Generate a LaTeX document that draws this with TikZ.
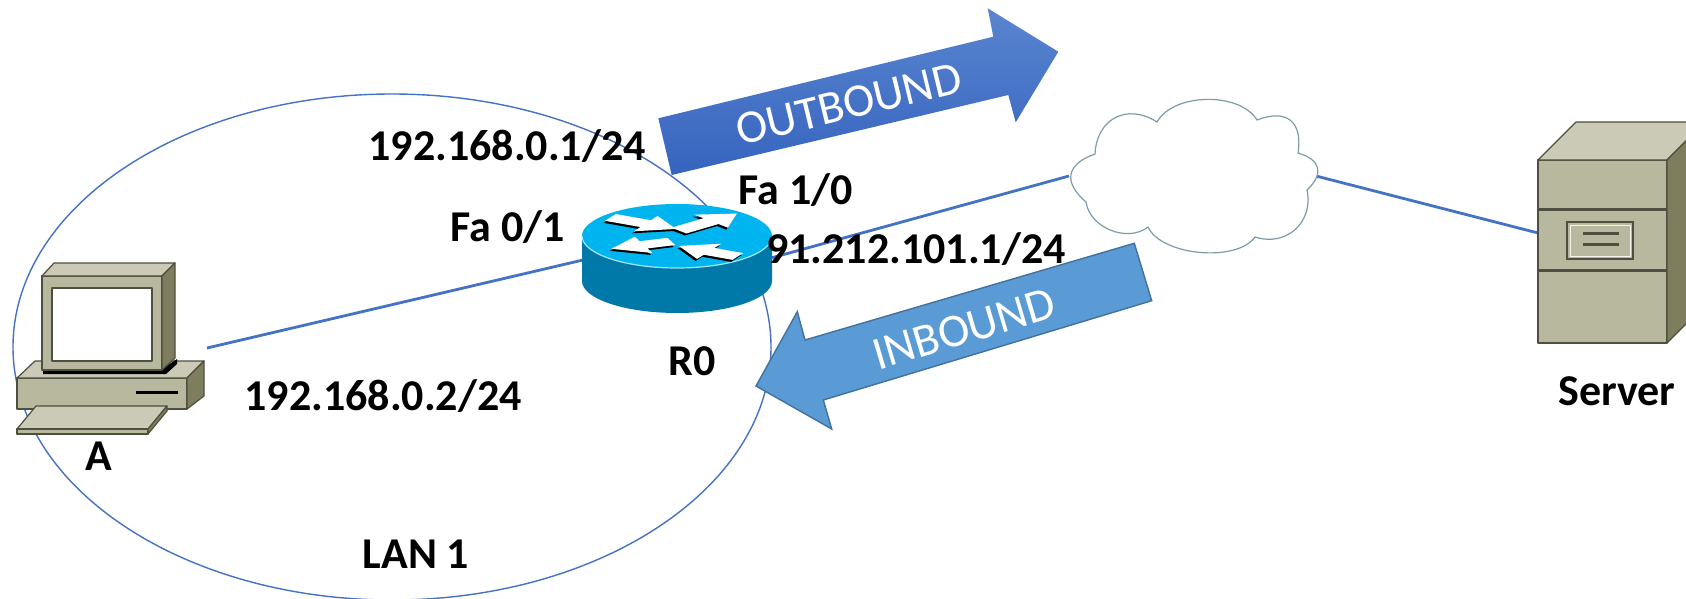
\documentclass[tikz,border=0pt]{standalone}
\usepackage{fontspec}
\setmainfont{Carlito}
\usetikzlibrary{calc}
\definecolor{lineblue}{HTML}{4472C4}
\definecolor{obtop}{HTML}{5985D0}
\definecolor{obbot}{HTML}{3664BE}
\definecolor{ibfill}{HTML}{5B9BD5}
\definecolor{ibdraw}{HTML}{41719C}
\definecolor{cloudline}{HTML}{7F9BA6}
\definecolor{rtop}{HTML}{00B4EF}
\definecolor{rside}{HTML}{0079A8}
\definecolor{hwfront}{HTML}{B8B89F}
\definecolor{hwtop}{HTML}{CACAB6}
\definecolor{hwside}{HTML}{7E7E5F}
\definecolor{hwline}{HTML}{4F4F3F}
\def\rsw{0.12}\def\rhw{0.27}\def\rhl{0.36}
\newcommand\frarrow[5]{%
  \pgfmathsetmacro\ddx{(#4)-(#2)}%
  \pgfmathsetmacro\ddy{(#5)-(#3)}%
  \pgfmathsetmacro\dl{sqrt((\ddx)*(\ddx)+(\ddy)*(\ddy))}%
  \pgfmathsetmacro\ux{(\ddx)/(\dl)}%
  \pgfmathsetmacro\uy{(\ddy)/(\dl)}%
  \pgfmathsetmacro\nx{-1*(\uy)}%
  \pgfmathsetmacro\ny{\ux}%
  \pgfmathsetmacro\hx{(#4)-\rhl*(\ux)}%
  \pgfmathsetmacro\hy{(#5)-\rhl*(\uy)}%
  \fill[#1] ({(#2)+\rsw*(\nx)},{(#3)+\rsw*(\ny)}) -- ({\hx+\rsw*(\nx)},{\hy+\rsw*(\ny)}) -- ({\hx+\rhw*(\nx)},{\hy+\rhw*(\ny)}) -- (#4,#5) -- ({\hx-\rhw*(\nx)},{\hy-\rhw*(\ny)}) -- ({\hx-\rsw*(\nx)},{\hy-\rsw*(\ny)}) -- ({(#2)-\rsw*(\nx)},{(#3)-\rsw*(\ny)}) -- cycle;}
\newcommand\routerarrows[1]{%
  \frarrow{#1}{-0.70}{0.58}{-0.01}{0.22}%
  \frarrow{#1}{0.02}{0.17}{0.63}{0.70}%
  \frarrow{#1}{-0.06}{-0.17}{-0.69}{-0.40}%
  \frarrow{#1}{0.64}{-0.64}{0.02}{-0.31}}
\begin{document}
\begin{tikzpicture}[x=0.5pt,y=0.5pt,
  lbl/.style={font=\fontsize{22}{26}\selectfont\bfseries, anchor=base, inner sep=0pt},
  arrowtext/.style={font=\fontsize{23.5}{27}\selectfont, text=white, inner sep=0pt},
  link/.style={draw=lineblue, line width=1.4pt},
  hw/.style={draw=hwline, line width=0.6pt, line join=round}]
\useasboundingbox (0,0) rectangle (1686,-599);
\fill[white] (0,0) rectangle (1686,-599);

% LAN ellipse
\draw[lineblue, line width=0.7pt] (392,-347) ellipse [x radius=189.5pt, y radius=126.5pt];

% named connection points
\coordinate (pcport) at (207,-348);
\coordinate (r0w) at (677,-238);
\coordinate (r0e) at (771,-258);
\coordinate (cloudW) at (1069,-176);
\coordinate (cloudE) at (1316,-176);
\coordinate (srvport) at (1538,-233);

% connectors
\draw[link] (pcport) -- (r0w);
\draw[link] (r0e) -- (cloudW);
\draw[link] (cloudE) -- (srvport);

% computer A
\filldraw[hw, fill=hwfront] (17,-378) rectangle (187,-409);
\filldraw[hw, fill=hwtop] (17,-378) -- (187,-378) -- (204,-361) -- (35,-361) -- cycle;
\filldraw[hw, fill=hwside] (187,-378) -- (204,-361) -- (204,-396) -- (187,-409) -- cycle;
\draw[black, line width=1.5pt] (136,-392) -- (178,-392);
\fill[black] (43,-369) -- (162,-369) -- (177,-359) -- (177,-364) -- (166,-374) -- (43,-374) -- cycle;
\filldraw[hw, fill=hwfront] (42,-276) rectangle (162,-370);
\filldraw[hw, fill=hwtop] (42,-276) -- (162,-276) -- (175,-263) -- (54,-263) -- cycle;
\filldraw[hw, fill=hwside] (162,-276) -- (175,-263) -- (175,-358) -- (162,-370) -- cycle;
\filldraw[hw, fill=white] (52,-288) rectangle (152,-361);
\filldraw[hw, fill=hwtop] (36,-406) -- (167,-406) -- (148,-429) -- (17,-429) -- cycle;
\filldraw[hw, fill=hwfront] (17,-429) rectangle (148,-434);
\filldraw[hw, fill=hwside] (148,-429) -- (167,-406) -- (167,-411) -- (148,-434) -- cycle;

% router R0
\fill[rside] (582,-236) -- (582,-281) arc[start angle=180, end angle=360, x radius=47.5pt, y radius=16pt] -- (772,-236) -- cycle;
\fill[rtop] (677,-236) ellipse [x radius=47.5pt, y radius=16pt];
\draw[white!65!rtop, line width=0.6pt] (582,-236) arc[start angle=180, end angle=360, x radius=47.5pt, y radius=16pt];
\begin{scope}[shift={(675.5,-238)}, xscale=95, yscale=32]
\routerarrows{black}
\end{scope}
\begin{scope}[shift={(677,-236)}, xscale=95, yscale=32]
\routerarrows{white}
\end{scope}

% cloud
\filldraw[draw=cloudline, fill=white, line width=0.6pt]
  (1095,-154) to[bend left=60, looseness=1.3] (1157,-122)
  to[bend left=60, looseness=0.85] (1257,-120)
  to[bend left=60, looseness=1.55] (1298,-153)
  to[bend left=60, looseness=1.6] (1307,-190)
  to[bend left=60, looseness=1.2] (1255,-237)
  to[bend left=60, looseness=0.75] (1148,-227)
  to[bend left=60, looseness=1.0] (1086,-202)
  to[bend left=60, looseness=1.6] (1095,-154) -- cycle;

% server
\filldraw[hw, fill=hwfront] (1538,-160) rectangle (1667,-343);
\filldraw[hw, fill=hwtop] (1538,-160) -- (1667,-160) -- (1705,-122) -- (1576,-122) -- cycle;
\filldraw[hw, fill=hwside] (1667,-160) -- (1705,-122) -- (1705,-305) -- (1667,-343) -- cycle;
\draw[hwline, line width=1.5pt] (1538,-209) -- (1667,-209);
\draw[hwline, line width=1.5pt] (1538,-270) -- (1667,-270);
\draw[hwline, line width=1.2pt] (1567,-222) rectangle (1633,-259);
\draw[white!85!hwfront, line width=0.5pt] (1570,-225) rectangle (1630,-256);
\draw[hwline, line width=1.5pt] (1583,-233) -- (1619,-233);
\draw[hwline, line width=1.5pt] (1583,-244) -- (1619,-244);

% OUTBOUND arrow
\shade[top color=obtop, bottom color=obbot]
  (671.7,-175) -- (658.3,-118.3) -- (993.3,-36.7) -- (987.7,-8.3) -- (1058.3,-51.7) -- (1015.7,-122.3) -- (1008.3,-95) -- cycle;
\node[arrowtext, rotate=13.6] (outb) at (849,-104) {OUTBOUND};

% INBOUND arrow
\filldraw[fill=ibfill, draw=ibdraw, line width=0.7pt, line join=miter]
  (1134.3,-243.3) -- (1151.7,-300.7) -- (823.3,-400) -- (831.7,-429) -- (756,-386) -- (797.3,-311.7) -- (805,-340) -- cycle;
\node[arrowtext, rotate=16.6] (inb) at (964,-329) {INBOUND};

% labels
\node[lbl] (ip1) at (507,-161) {192.168.0.1/24};
\node[lbl] (fa01) at (508,-241) {Fa 0/1};
\node[lbl] (fa10) at (796,-204) {Fa 1/0};
\node[lbl] (ipw) at (916,-263) {91.212.101.1/24};
\node[lbl] (r0) at (692,-375) {R0};
\node[lbl] (ip2) at (383,-410) {192.168.0.2/24};
\node[lbl] (lan) at (416,-568) {LAN 1};
\node[lbl] (lblA) at (99,-470) {A};
\node[lbl] (srv) at (1617,-405) {Server};
\end{tikzpicture}
\end{document}
